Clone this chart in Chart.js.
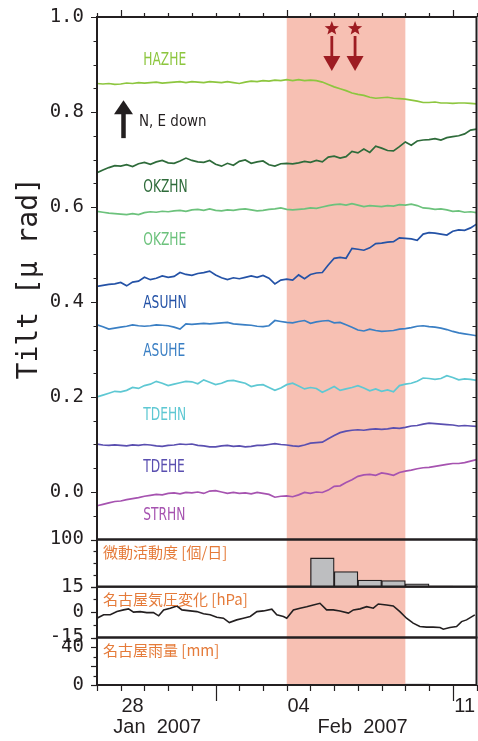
<!DOCTYPE html>
<html>
<head>
<meta charset="utf-8">
<script src="https://cdn.jsdelivr.net/npm/chart.js@4.4.1/dist/chart.umd.min.js"></script>
<style>
html, body { margin: 0; padding: 0; background: #fff; }
#wrap { width: 478px; height: 741px; position: relative; }
</style>
</head>
<body>
<div id="wrap"><canvas id="tilt"></canvas></div>
<script>
// time axis: days since 27 Jan 2007 00:00, tilt sampled every 6 hours
var tiltDays = [];
for (var i = 0; i <= 64; i++) tiltDays.push(i / 4);

var seriesNames = ['HAZHE', 'OKZHN', 'OKZHE', 'ASUHN', 'ASUHE', 'TDEHN', 'TDEHE', 'STRHN'];

var hazhe = [0.860, 0.859, 0.860, 0.858, 0.859, 0.861, 0.860, 0.862, 0.861, 0.862, 0.863, 0.861, 0.862, 0.863, 0.864, 0.862, 0.864,
    0.863, 0.862, 0.864, 0.863, 0.862, 0.864, 0.862, 0.860, 0.863, 0.865, 0.864, 0.866, 0.865, 0.867, 0.866, 0.868,
    0.866, 0.868, 0.866, 0.867, 0.866, 0.863, 0.858, 0.853, 0.849, 0.845, 0.840, 0.837, 0.835, 0.831, 0.829, 0.830,
    0.831, 0.829, 0.828, 0.827, 0.825, 0.823, 0.820, 0.820, 0.821, 0.819, 0.819, 0.818, 0.819, 0.819, 0.818, 0.817];
var okzhn = [0.672, 0.678, 0.683, 0.687, 0.686, 0.689, 0.685, 0.691, 0.694, 0.690, 0.695, 0.698, 0.693, 0.692, 0.697, 0.703, 0.698,
    0.695, 0.694, 0.698, 0.690, 0.686, 0.692, 0.688, 0.696, 0.699, 0.692, 0.695, 0.697, 0.689, 0.686, 0.691, 0.692,
    0.691, 0.693, 0.696, 0.694, 0.698, 0.695, 0.705, 0.707, 0.703, 0.706, 0.717, 0.714, 0.722, 0.715, 0.728, 0.724,
    0.719, 0.718, 0.727, 0.737, 0.730, 0.739, 0.741, 0.742, 0.744, 0.741, 0.746, 0.748, 0.750, 0.754, 0.762, 0.764];
var okzhe = [0.591, 0.589, 0.587, 0.586, 0.585, 0.584, 0.586, 0.584, 0.588, 0.590, 0.589, 0.591, 0.590, 0.592, 0.593, 0.591, 0.594,
    0.595, 0.593, 0.596, 0.593, 0.592, 0.594, 0.593, 0.595, 0.596, 0.594, 0.592, 0.593, 0.595, 0.596, 0.598, 0.595,
    0.594, 0.595, 0.596, 0.598, 0.597, 0.600, 0.603, 0.605, 0.606, 0.604, 0.607, 0.604, 0.601, 0.603, 0.602, 0.601,
    0.603, 0.602, 0.605, 0.604, 0.606, 0.603, 0.598, 0.597, 0.595, 0.596, 0.594, 0.591, 0.592, 0.589, 0.590, 0.588];
var asuhn = [0.433, 0.435, 0.437, 0.438, 0.441, 0.434, 0.442, 0.444, 0.452, 0.447, 0.450, 0.455, 0.452, 0.454, 0.462, 0.458, 0.456,
    0.460, 0.462, 0.465, 0.457, 0.451, 0.447, 0.451, 0.449, 0.452, 0.455, 0.452, 0.456, 0.450, 0.438, 0.446, 0.448,
    0.446, 0.457, 0.449, 0.458, 0.461, 0.462, 0.478, 0.492, 0.494, 0.492, 0.513, 0.511, 0.509, 0.514, 0.523, 0.524,
    0.526, 0.527, 0.535, 0.534, 0.533, 0.530, 0.543, 0.546, 0.545, 0.543, 0.541, 0.549, 0.552, 0.551, 0.556, 0.564];
var asuhe = [0.352, 0.348, 0.343, 0.345, 0.347, 0.349, 0.352, 0.350, 0.349, 0.350, 0.352, 0.351, 0.350, 0.347, 0.343, 0.354, 0.353,
    0.354, 0.355, 0.354, 0.355, 0.356, 0.357, 0.354, 0.353, 0.352, 0.351, 0.349, 0.348, 0.350, 0.361, 0.359, 0.357,
    0.356, 0.359, 0.361, 0.355, 0.358, 0.360, 0.361, 0.356, 0.357, 0.352, 0.347, 0.341, 0.339, 0.343, 0.340, 0.338,
    0.339, 0.340, 0.343, 0.344, 0.346, 0.349, 0.350, 0.348, 0.347, 0.345, 0.342, 0.338, 0.335, 0.333, 0.331, 0.329];
var tdehn = [0.200, 0.204, 0.208, 0.212, 0.211, 0.214, 0.220, 0.218, 0.224, 0.227, 0.233, 0.229, 0.224, 0.227, 0.230, 0.233, 0.232,
    0.228, 0.236, 0.231, 0.226, 0.229, 0.234, 0.235, 0.232, 0.229, 0.222, 0.225, 0.226, 0.220, 0.214, 0.219, 0.226,
    0.229, 0.223, 0.217, 0.220, 0.218, 0.210, 0.216, 0.222, 0.214, 0.217, 0.220, 0.224, 0.219, 0.213, 0.217, 0.212,
    0.215, 0.211, 0.224, 0.227, 0.229, 0.233, 0.240, 0.239, 0.237, 0.239, 0.245, 0.241, 0.236, 0.238, 0.237, 0.235];
var tdehe = [0.101, 0.099, 0.098, 0.099, 0.098, 0.097, 0.099, 0.098, 0.100, 0.099, 0.097, 0.096, 0.098, 0.099, 0.101, 0.100, 0.101,
    0.098, 0.097, 0.095, 0.095, 0.097, 0.098, 0.096, 0.097, 0.095, 0.096, 0.098, 0.098, 0.100, 0.102, 0.100, 0.099,
    0.097, 0.096, 0.099, 0.103, 0.104, 0.105, 0.112, 0.119, 0.125, 0.128, 0.130, 0.131, 0.130, 0.132, 0.133, 0.132,
    0.133, 0.135, 0.134, 0.136, 0.139, 0.140, 0.143, 0.145, 0.144, 0.143, 0.142, 0.141, 0.139, 0.140, 0.139, 0.138];
var strhn = [-0.029, -0.026, -0.023, -0.020, -0.019, -0.016, -0.014, -0.012, -0.009, -0.007, -0.005, -0.006, -0.003, -0.002, -0.004, -0.001, -0.002,
    0.000, -0.003, 0.002, 0.003, 0.000, -0.003, -0.001, -0.003, -0.002, -0.004, -0.001, -0.003, -0.005, -0.011, -0.009, -0.008,
    -0.010, -0.006, -0.001, -0.003, 0.000, -0.001, 0.004, 0.012, 0.013, 0.020, 0.026, 0.033, 0.036, 0.037, 0.035, 0.040,
    0.038, 0.035, 0.041, 0.044, 0.046, 0.049, 0.051, 0.052, 0.054, 0.056, 0.058, 0.060, 0.060, 0.062, 0.065, 0.068];

// daily tremor counts (bars centred on the day)
var microDays = [8.5, 9.5, 10.5, 11.5, 12.5, 13.5, 14.5];
var microCounts = [1.5, 61, 32, 14, 13, 6, 1.5];

// Nagoya pressure change [hPa]
var pressDays = [0, 0.28, 0.56, 0.84, 1.12, 1.33, 1.54, 1.82, 2.1, 2.38, 2.6, 2.81, 3.09, 3.37, 3.58, 3.93, 4.21, 4.49, 4.77, 5.05,
    5.33, 5.58, 5.89, 6.17, 6.46, 6.74, 7.02, 7.37, 7.58, 7.86, 8.0, 8.28, 8.56, 8.84, 9.12, 9.4, 9.68, 9.96, 10.24, 10.6,
    10.81, 11.09, 11.37, 11.65, 11.86, 12.21, 12.49, 12.77, 13.05, 13.33, 13.61, 13.89, 14.17, 14.46, 14.6, 14.88, 15.16, 15.37, 15.58, 15.93];
var pressVals = [-3.6, -1.6, -1.6, 0.3, 1.3, 1.9, 0, 0.3, -0.3, -0.3, -2.2, 1.3, 2.3, 3.6, 1.3, 0.7, 0.3, -1, -1.6, -3,
    -3.6, -6.2, -4.6, -3.6, -2.6, 0.3, 0.7, 1.7, -1.6, -2.6, -3.6, 1.3, 2.3, 3.2, 4.2, 5.2, 1.3, 1.3, 0.7, -0.6,
    1.3, 1.9, 3.2, 2.3, 4.8, 4.2, 3.6, 0.3, -3.6, -6.5, -8.5, -8.9, -8.9, -9.1, -10.1, -9.1, -8.5, -5.6, -4.6, -1.6];

// Nagoya rainfall [mm]
var rainDays = [13.5];
var rainVals = [1];

// axis labels
var tiltTicks = [0, 0.2, 0.4, 0.6, 0.8, 1.0];
var dayTicks = [1.5, 8.5, 15.5];
var dayLabels = ['28', '04', '11'];
var monthLabels = ['Jan  2007', 'Feb  2007'];
var panelTitles = ['微動活動度 [個/日]', '名古屋気圧変化 [hPa]', '名古屋雨量 [mm]'];

// shaded period and the two events
var shadeDays = [8, 13];
var eventDays = [9.9, 10.88];

var lineColors = ['#8dc63f', '#2e6b3a', '#6cc27c', '#2452a6', '#3a7fc4', '#5ec8d3', '#5a4fb0', '#a653b0'];
var tiltSeries = [hazhe, okzhn, okzhe, asuhn, asuhe, tdehn, tdehe, strhn];
// series label anchor (day, tilt value at baseline)
var labelAnchorDay = 1.95;
var labelAnchorTilt = [0.900, 0.632, 0.519, 0.388, 0.287, 0.152, 0.043, -0.058];
var monthAnchorDay = [2.54, 11.2];

function pts(xs, ys) {
    return xs.map((x, k) => ({ x: x, y: ys[k] }));
}

function narrowText(ctx, text, x, y, sx) {
    ctx.save();
    ctx.translate(x, y);
    ctx.scale(sx, 1);
    ctx.fillText(text, 0, 0);
    ctx.restore();
}

function star(ctx, cx, cy, r1, r2) {
    ctx.beginPath();
    for (var k = 0; k < 10; k++) {
	var r = k % 2 ? r2 : r1;
	var a = -Math.PI / 2 + k * Math.PI / 5;
	ctx.lineTo(cx + r * Math.cos(a), cy + r * Math.sin(a));
    }
    ctx.closePath();
    ctx.fill();
}

function upArrow(ctx, x, tip, bottom, headLen, headW, shaftW) {
    ctx.fillRect(x - shaftW / 2, tip + headLen - 1, shaftW, bottom - tip - headLen + 1);
    ctx.beginPath();
    ctx.moveTo(x, tip);
    ctx.lineTo(x - headW / 2, tip + headLen);
    ctx.lineTo(x + headW / 2, tip + headLen);
    ctx.closePath();
    ctx.fill();
}

function downArrow(ctx, x, top, tip, headLen, headW, shaftW) {
    ctx.fillRect(x - shaftW / 2, top, shaftW, tip - headLen - top + 1);
    ctx.beginPath();
    ctx.moveTo(x, tip);
    ctx.lineTo(x - headW / 2, tip - headLen);
    ctx.lineTo(x + headW / 2, tip - headLen);
    ctx.closePath();
    ctx.fill();
}

var INK = '#231f20';

var framePlugin = {
    id: 'frame',
    beforeDatasetsDraw(chart) {
	const { ctx, chartArea, scales } = chart;
	const x0 = scales.x.getPixelForValue(shadeDays[0]);
	const x1 = scales.x.getPixelForValue(shadeDays[1]);
	ctx.save();
	ctx.fillStyle = '#f7c0b3';
	ctx.fillRect(x0, chartArea.top, x1 - x0, chartArea.bottom - chartArea.top);
	ctx.restore();
    },
    afterDatasetsDraw(chart) {
	const { ctx, chartArea, scales } = chart;
	const xs = scales.x;
	const L = chartArea.left, R = chartArea.right;
	ctx.save();

	// left ticks of every panel (minor + major)
	const panels = [
	    { id: 'y', step: 0.05, major: 0.2 },
	    { id: 'yM', step: 25, major: 100 },
	    { id: 'yP', step: 7.5, major: 15 },
	    { id: 'yR', step: 10, major: 20 }
	];
	ctx.strokeStyle = INK;
	ctx.lineWidth = 1.2;
	panels.forEach((p) => {
	    const s = scales[p.id];
	    const n = Math.round((s.max - s.min) / p.step);
	    for (let k = 0; k <= n; k++) {
		const v = s.min + k * p.step;
		const py = Math.round(s.getPixelForValue(v)) + 0.5;
		const isMajor = Math.abs(v / p.major - Math.round(v / p.major)) < 1e-6;
		ctx.beginPath();
		ctx.moveTo(L - (isMajor ? 6 : 3.5), py);
		ctx.lineTo(L, py);
		if (p.id === 'y') {
		    ctx.moveTo(R - 4, py);
		    ctx.lineTo(R, py);
		}
		ctx.stroke();
	    }
	});

	// day ticks on top and bottom
	for (let d = 0; d <= 16; d++) {
	    const px = Math.round(xs.getPixelForValue(d)) + 0.5;
	    const topLong = (d === 1 || d === 8 || d === 15);
	    const botLong = (d === 5 || d === 15);
	    ctx.beginPath();
	    ctx.moveTo(px, chartArea.top);
	    ctx.lineTo(px, chartArea.top - (topLong ? 7 : 4));
	    ctx.moveTo(px, chartArea.bottom);
	    ctx.lineTo(px, chartArea.bottom + (botLong ? 16 : 6));
	    ctx.stroke();
	}

	// panel frames
	ctx.lineWidth = 2;
	['y', 'yM', 'yP', 'yR'].forEach((id) => {
	    const s = scales[id];
	    ctx.strokeRect(L, s.top, R - L, s.bottom - s.top);
	});

	// series names
	ctx.textBaseline = 'alphabetic';
	ctx.font = '18px "DejaVu Sans"';
	const lx = xs.getPixelForValue(labelAnchorDay);
	seriesNames.forEach((name, k) => {
	    ctx.fillStyle = lineColors[k];
	    narrowText(ctx, name, lx, scales.y.getPixelForValue(labelAnchorTilt[k]), 0.68);
	});

	// direction note
	ctx.fillStyle = INK;
	upArrow(ctx, L + 26.5, scales.y.getPixelForValue(0.825), scales.y.getPixelForValue(0.745), 14, 19, 4.5);
	ctx.font = '16px "DejaVu Sans"';
	narrowText(ctx, 'N, E down', L + 42, scales.y.getPixelForValue(0.770), 0.84);

	// panel titles
	ctx.fillStyle = '#e57b3a';
	ctx.font = '15px "Noto Sans CJK JP"';
	ctx.textBaseline = 'middle';
	['yM', 'yP', 'yR'].forEach((id, k) => {
	    ctx.fillText(panelTitles[k], L + 6, scales[id].top + 13);
	});

	// month labels
	ctx.fillStyle = INK;
	ctx.font = '20px "Liberation Sans"';
	ctx.textAlign = 'center';
	monthLabels.forEach((m, k) => {
	    ctx.fillText(m, xs.getPixelForValue(monthAnchorDay[k]), 727);
	});

	// events: stars and down arrows
	ctx.fillStyle = '#9d1c22';
	eventDays.forEach((d) => {
	    const px = xs.getPixelForValue(d);
	    star(ctx, px, chartArea.top + 11.5, 7.5, 3.2);
	    downArrow(ctx, px, chartArea.top + 19, chartArea.top + 54, 15, 17, 2.8);
	});

	ctx.restore();
    }
};

var datasets = tiltSeries.map((vals, k) => ({
    label: seriesNames[k],
    data: pts(tiltDays, vals),
    yAxisID: 'y',
    borderColor: lineColors[k],
    borderWidth: 1.7,
    pointRadius: 0,
    tension: 0
}));
datasets.push({
    label: 'pressure',
    data: pts(pressDays, pressVals),
    yAxisID: 'yP',
    borderColor: INK,
    borderWidth: 1.6,
    pointRadius: 0,
    tension: 0
});
datasets.push({
    type: 'bar',
    label: 'tremor',
    data: pts(microDays, microCounts),
    yAxisID: 'yM',
    backgroundColor: '#bdbec0',
    borderColor: INK,
    borderWidth: 1.3,
    barPercentage: 1,
    categoryPercentage: 1,
    grouped: false
});
datasets.push({
    type: 'bar',
    label: 'rain',
    data: pts(rainDays, rainVals),
    yAxisID: 'yR',
    backgroundColor: '#8c8d90',
    borderColor: '#8c8d90',
    borderWidth: 0,
    barPercentage: 1,
    categoryPercentage: 1,
    grouped: false
});

function fixWidth(s) {
    s.width = 97;
    s.paddingTop = 0;
    s.paddingBottom = 0;
}

function yTickFont() {
    return { family: 'DejaVu Sans Mono', size: 19 };
}

var chart = new Chart(document.getElementById('tilt'), {
    type: 'line',
    data: { datasets: datasets },
    options: {
	animation: false,
	responsive: true,
	maintainAspectRatio: false,
	layout: { padding: { top: 17, right: 1.5, bottom: 0, left: 0 } },
	plugins: {
	    legend: { display: false },
	    tooltip: { enabled: false }
	},
	scales: {
	    x: {
		type: 'linear',
		position: 'bottom',
		offset: false,
		min: 0,
		max: 16,
		grid: { display: false, drawTicks: false, offset: false },
		border: { display: false },
		afterBuildTicks: (s) => { s.ticks = dayTicks.map((v) => ({ value: v })); },
		afterFit: (s) => { s.height = 56; s.paddingLeft = 0; s.paddingRight = 0; },
		ticks: {
		    autoSkip: false,
		    maxRotation: 0,
		    padding: 9,
		    color: INK,
		    font: { family: 'Liberation Sans', size: 20 },
		    callback: (v, i) => dayLabels[i]
		}
	    },
	    y: {
		type: 'linear',
		position: 'left',
		stack: 'panels',
		stackWeight: 522.5,
		weight: 4,
		min: -0.1,
		max: 1.0,
		grid: { display: false, drawTicks: false },
		border: { display: false },
		afterBuildTicks: (s) => { s.ticks = tiltTicks.map((v) => ({ value: v })); },
		afterFit: fixWidth,
		ticks: { autoSkip: false, padding: 13, color: INK, font: yTickFont(), callback: (v) => v.toFixed(1) },
		title: {
		    display: true,
		    text: 'Tilt [μ rad]',
		    color: INK,
		    font: { family: 'DejaVu Sans Mono', size: 28 },
		    padding: { top: 13, bottom: 0 }
		}
	    },
	    yM: {
		type: 'linear',
		position: 'left',
		stack: 'panels',
		stackWeight: 47.2,
		weight: 3,
		min: 0,
		max: 100,
		grid: { display: false, drawTicks: false },
		border: { display: false },
		afterBuildTicks: (s) => { s.ticks = [{ value: 100 }]; },
		afterFit: fixWidth,
		ticks: { autoSkip: false, padding: 13, color: INK, font: yTickFont() }
	    },
	    yP: {
		type: 'linear',
		position: 'left',
		stack: 'panels',
		stackWeight: 50.8,
		weight: 2,
		min: -15,
		max: 15,
		grid: { display: false, drawTicks: false },
		border: { display: false },
		afterBuildTicks: (s) => { s.ticks = [{ value: -15 }, { value: 0 }, { value: 15 }]; },
		afterFit: fixWidth,
		ticks: { autoSkip: false, padding: 13, color: INK, font: yTickFont() }
	    },
	    yR: {
		type: 'linear',
		position: 'left',
		stack: 'panels',
		stackWeight: 47.5,
		weight: 1,
		min: 0,
		max: 50,
		grid: { display: false, drawTicks: false },
		border: { display: false },
		afterBuildTicks: (s) => { s.ticks = [{ value: 0 }, { value: 40 }]; },
		afterFit: fixWidth,
		ticks: { autoSkip: false, padding: 13, color: INK, font: yTickFont() }
	    }
	}
    },
    plugins: [framePlugin]
});
</script>
</body>
</html>
